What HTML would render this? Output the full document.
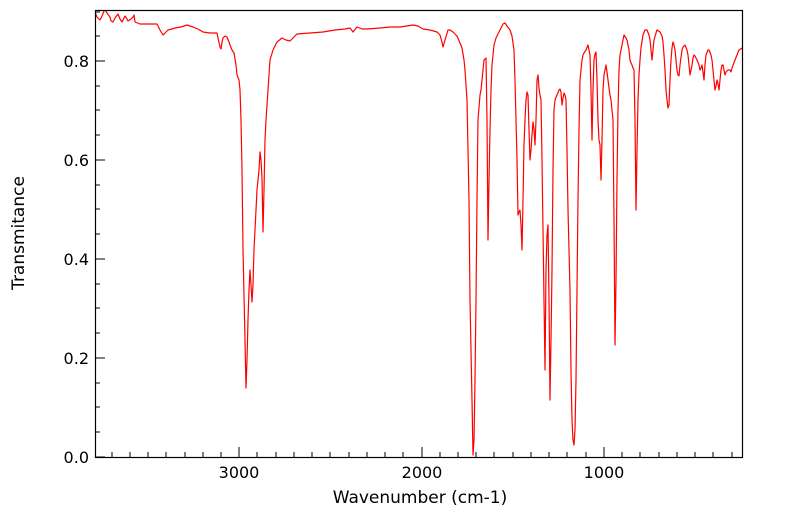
<!DOCTYPE html>
<html><head><meta charset="utf-8"><style>body{margin:0;background:#fff}svg{display:block}</style></head><body>
<svg width="799" height="516" viewBox="0 0 799 516" xmlns="http://www.w3.org/2000/svg" font-family="DejaVu Sans, Liberation Sans, sans-serif">
<rect width="799" height="516" fill="#fff"/>
<defs><clipPath id="c"><rect x="95" y="10" width="647" height="447"/></clipPath></defs>
<polyline clip-path="url(#c)" fill="none" stroke="#ff0000" stroke-width="1.2" stroke-linejoin="round" points="
95,12 97,17 100,20 102,16 104,11 105,10 107,13 110,17 111,21 113,22 115,18 118,14 120,19 122,22 124,18 125,16 127,19 128,21 131,19 133,17 134,15 135,22 140,24 150,24 157,24 159,28 160,30 163,35 166,32 168,30 172,29 175,28 181,27 187,25 193,27 198,29 203,32 210,33 217,33 218,38 220,47 221,49 222,42 223,38 225,36 227,37 229,42 230,45 232,50 234,53 236,65 237,75 239,80 240,90 241,120 242,170 243,250 245,340 246,388 247,360 248,320 249,290 250,270 251,285 252,302 253,285 254,250 256,210 257,190 259,170 260,152 261,160 262,178 263,232 264,190 265,140 266,120 268,90 270,60 273,50 277,42 282,38 286,40 290,41 294,37 297,34 310,33 323,32 335,30 345,29 350,28 353,32 357,27 362,29 367,29 380,28 390,27 400,27 413,25 418,26 423,29 430,30 437,32 440,35 442,42 443,47 445,40 448,30 450,30 453,32 457,36 460,43 462,48 464,60 465,70 467,100 469,200 470,300 472,400 473,455 474,440 475,380 476,300 477,200 478,120 480,95 481,90 483,70 484,60 486,58 487,120 488,240 489,180 490,130 491,90 492,65 494,45 496,38 500,30 503,24 505,23 507,26 510,30 512,36 514,50 515,80 516,120 517,160 518,215 519,212 520,210 521,225 522,250 523,200 524,145 525,120 526,100 527,92 528,95 529,130 530,160 531,150 532,135 533,122 534,130 535,145 536,120 537,80 538,75 539,88 540,95 541,100 542,160 543,230 544,300 545,370 546,270 547,235 548,225 549,300 550,400 551,340 552,270 553,170 554,110 555,100 557,95 559,90 560,89 561,92 562,105 563,98 564,93 565,95 566,100 567,150 568,210 569,250 570,290 571,370 572,420 573,440 574,445 575,430 576,380 577,290 578,200 579,130 580,80 582,60 583,55 584,53 586,50 588,45 589,50 590,55 591,90 592,140 593,90 594,60 595,54 596,52 597,80 598,120 599,140 600,145 601,180 602,140 603,90 604,75 606,65 607,72 608,80 609,88 610,95 611,100 613,120 614,220 615,345 616,280 617,180 618,110 619,70 620,55 622,45 624,35 626,38 627,40 628,45 629,50 630,60 631,63 632,65 633,68 634,70 635,120 636,210 637,150 638,100 639,75 640,60 641,48 643,35 645,30 647,30 649,35 650,40 651,50 652,60 653,50 654,40 656,33 657,30 660,32 662,36 663,42 664,55 665,70 666,90 667,100 668,108 669,105 670,80 671,60 672,48 673,42 674,45 675,50 676,60 677,70 678,75 679,76 680,65 682,50 683,47 685,45 687,50 688,55 689,65 690,75 691,70 692,65 693,58 694,55 695,56 697,60 699,65 700,70 701,68 702,65 703,72 704,80 705,65 706,55 708,50 709,50 711,55 712,60 713,70 714,80 715,90 716,86 717,80 718,84 719,90 720,80 721,70 722,65 723,65 724,70 725,75 726,72 728,70 730,70 731,72 732,68 735,60 737,55 739,50 742,48"/>
<g stroke="#000" stroke-width="1" fill="none">
<rect x="95.5" y="10.5" width="647" height="447" stroke-width="1.2"/>
</g>
<g stroke="#000" stroke-width="1">
<line x1="239" y1="457" x2="239" y2="447"/><line x1="422" y1="457" x2="422" y2="447"/><line x1="604" y1="457" x2="604" y2="447"/>
<line x1="112" y1="457" x2="112" y2="452"/><line x1="130" y1="457" x2="130" y2="452"/><line x1="148" y1="457" x2="148" y2="452"/><line x1="166" y1="457" x2="166" y2="452"/><line x1="185" y1="457" x2="185" y2="452"/><line x1="203" y1="457" x2="203" y2="452"/><line x1="221" y1="457" x2="221" y2="452"/>
<line x1="257" y1="457" x2="257" y2="452"/><line x1="276" y1="457" x2="276" y2="452"/><line x1="294" y1="457" x2="294" y2="452"/><line x1="312" y1="457" x2="312" y2="452"/><line x1="330" y1="457" x2="330" y2="452"/><line x1="349" y1="457" x2="349" y2="452"/><line x1="367" y1="457" x2="367" y2="452"/><line x1="385" y1="457" x2="385" y2="452"/><line x1="403" y1="457" x2="403" y2="452"/>
<line x1="440" y1="457" x2="440" y2="452"/><line x1="458" y1="457" x2="458" y2="452"/><line x1="476" y1="457" x2="476" y2="452"/><line x1="494" y1="457" x2="494" y2="452"/><line x1="513" y1="457" x2="513" y2="452"/><line x1="531" y1="457" x2="531" y2="452"/><line x1="549" y1="457" x2="549" y2="452"/><line x1="567" y1="457" x2="567" y2="452"/><line x1="586" y1="457" x2="586" y2="452"/>
<line x1="622" y1="457" x2="622" y2="452"/><line x1="640" y1="457" x2="640" y2="452"/><line x1="659" y1="457" x2="659" y2="452"/><line x1="677" y1="457" x2="677" y2="452"/><line x1="695" y1="457" x2="695" y2="452"/><line x1="713" y1="457" x2="713" y2="452"/><line x1="732" y1="457" x2="732" y2="452"/>
<line x1="95" y1="457" x2="105" y2="457"/><line x1="95" y1="358" x2="105" y2="358"/><line x1="95" y1="259" x2="105" y2="259"/><line x1="95" y1="160" x2="105" y2="160"/><line x1="95" y1="61" x2="105" y2="61"/>
<line x1="95" y1="432" x2="100" y2="432"/><line x1="95" y1="407" x2="100" y2="407"/><line x1="95" y1="383" x2="100" y2="383"/>
<line x1="95" y1="333" x2="100" y2="333"/><line x1="95" y1="308" x2="100" y2="308"/><line x1="95" y1="284" x2="100" y2="284"/>
<line x1="95" y1="234" x2="100" y2="234"/><line x1="95" y1="209" x2="100" y2="209"/><line x1="95" y1="185" x2="100" y2="185"/>
<line x1="95" y1="135" x2="100" y2="135"/><line x1="95" y1="110" x2="100" y2="110"/><line x1="95" y1="86" x2="100" y2="86"/>
<line x1="95" y1="36" x2="100" y2="36"/><line x1="95" y1="12" x2="100" y2="12"/>
</g>
<g font-size="16" fill="#000" text-anchor="end">
<text x="89" y="463">0.0</text><text x="89" y="364">0.2</text><text x="89" y="265">0.4</text><text x="89" y="166">0.6</text><text x="89" y="67">0.8</text>
</g>
<g font-size="16" fill="#000" text-anchor="middle">
<text x="239" y="478">3000</text><text x="422" y="478">2000</text><text x="604" y="478">1000</text>
<text x="420" y="503" font-size="17">Wavenumber (cm-1)</text>
<text transform="translate(24,233) rotate(-90)" font-size="17">Transmitance</text>
</g>
</svg>
</body></html>
